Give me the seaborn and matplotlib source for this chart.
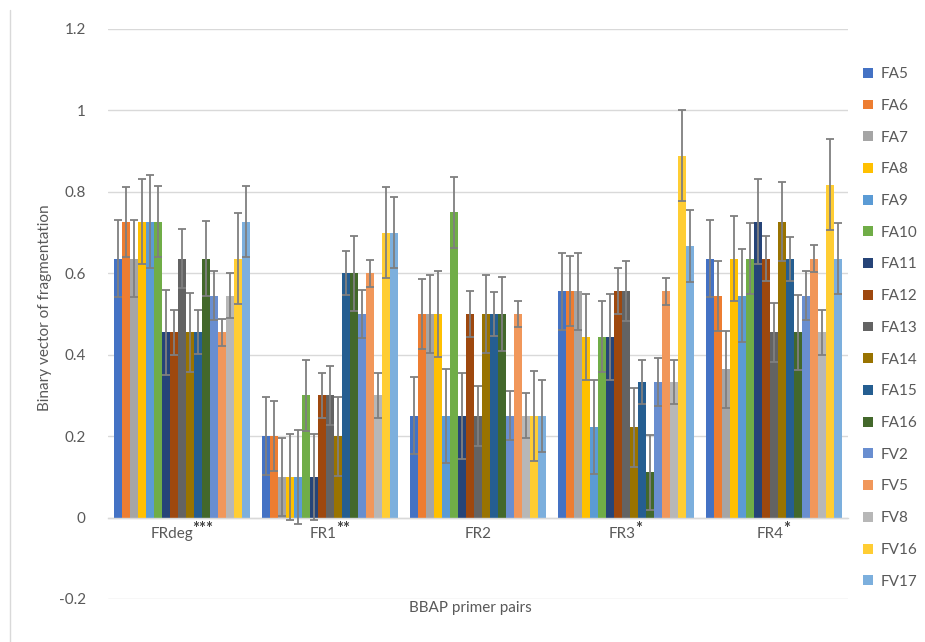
import matplotlib
matplotlib.use("Agg")
import matplotlib.pyplot as plt
import matplotlib.patches as mpatches
from matplotlib.lines import Line2D
from matplotlib.transforms import ScaledTranslation
import seaborn as sns
import pandas as pd

categories = ["FRdeg", "FR1", "FR2", "FR3", "FR4"]
cat_stars = ["***", "**", "", "*", "*"]
series = ["FA5", "FA6", "FA7", "FA8", "FA9", "FA10", "FA11", "FA12", "FA13",
          "FA14", "FA15", "FA16", "FV2", "FV5", "FV8", "FV16", "FV17"]

vals_FRdeg = [0.636, 0.727, 0.636, 0.727, 0.727, 0.727, 0.455, 0.455, 0.636,
              0.455, 0.455, 0.636, 0.545, 0.455, 0.545, 0.636, 0.727]
vals_FR1 = [0.2, 0.2, 0.1, 0.1, 0.1, 0.3, 0.1, 0.3, 0.3,
            0.2, 0.6, 0.6, 0.5, 0.6, 0.3, 0.7, 0.7]
vals_FR2 = [0.25, 0.5, 0.5, 0.5, 0.25, 0.75, 0.25, 0.5, 0.25,
            0.5, 0.5, 0.5, 0.25, 0.5, 0.25, 0.25, 0.25]
vals_FR3 = [0.556, 0.556, 0.556, 0.444, 0.222, 0.444, 0.444, 0.556, 0.556,
            0.222, 0.333, 0.111, 0.333, 0.556, 0.333, 0.889, 0.667]
vals_FR4 = [0.636, 0.545, 0.364, 0.636, 0.545, 0.636, 0.727, 0.636, 0.455,
            0.727, 0.636, 0.455, 0.545, 0.636, 0.455, 0.818, 0.636]
errors = [0.095, 0.086, 0.095, 0.105, 0.115, 0.087, 0.105, 0.056, 0.073,
          0.097, 0.054, 0.092, 0.060, 0.033, 0.055, 0.111, 0.088]

colors = ["#4472C4", "#ED7D31", "#A5A5A5", "#FFC000", "#5B9BD5", "#70AD47",
          "#264478", "#9E480E", "#636363", "#997300", "#255E91", "#43682B",
          "#698ED0", "#F1975A", "#B7B7B7", "#FFCD33", "#7CAFDD"]

all_vals = [vals_FRdeg, vals_FR1, vals_FR2, vals_FR3, vals_FR4]
rows = []
for c, vals in zip(categories, all_vals):
    for s, v in zip(series, vals):
        rows.append({"cat": c, "series": s, "value": v})
df = pd.DataFrame(rows)

sns.set_theme(style="white")
plt.rcParams["font.family"] = ["Lato", "DejaVu Sans"]
plt.rcParams["axes.unicode_minus"] = False
txt = "#595959"
grid = "#D9D9D9"
fs = 11

fig = plt.figure(figsize=(9.25, 6.42), dpi=100)
ax = fig.add_axes([108 / 925, 43 / 642, 740 / 925, 570 / 642])

palette = dict(zip(series, colors))
sns.barplot(data=df, x="cat", y="value", hue="series", order=categories,
            hue_order=series, palette=palette, width=0.92, linewidth=0,
            errorbar=None, legend=False, ax=ax, saturation=1)

for cont, err in zip(ax.containers, errors):
    xs = [b.get_x() + b.get_width() / 2 for b in cont]
    ys = [b.get_height() for b in cont]
    ax.errorbar(xs, ys, yerr=err, fmt="none", ecolor="#7F7F7F",
                elinewidth=1.3, capsize=2.6, capthick=1.3, zorder=5)

ax.set_ylim(-0.2, 1.2)
ax.set_xlim(-0.5, 4.5)
yt = [-0.2, 0, 0.2, 0.4, 0.6, 0.8, 1.0, 1.2]
ax.set_yticks(yt)
ax.set_yticklabels([f"{v:g}" for v in yt], color=txt, fontsize=fs)
ax.yaxis.grid(True, color=grid, linewidth=1)
ax.set_axisbelow(True)
for sp in ["top", "right", "left"]:
    ax.spines[sp].set_visible(False)
ax.spines["bottom"].set_position(("data", 0))
ax.spines["bottom"].set_color(grid)
ax.spines["bottom"].set_linewidth(1)
ax.set_xticks(range(len(categories)))
ax.set_xticklabels(categories, color=txt, fontsize=fs)
ax.tick_params(axis="both", length=0)
ax.tick_params(axis="y", pad=16)
ax.tick_params(axis="x", pad=7)
ax.set_xlabel("")
ax.set_ylabel("")

# superscript stars after category labels (whole label centred)
fig.canvas.draw()
renderer = fig.canvas.get_renderer()
for lab, stars in zip(ax.get_xticklabels(), cat_stars):
    if not stars:
        continue
    st = fig.text(0, 0, stars, ha="left", va="center", color="#404040",
                  fontsize=12, fontweight="bold")
    w = st.get_window_extent(renderer).width
    shift = -w / 2
    lab.set_transform(lab.get_transform() +
                      ScaledTranslation(shift / fig.dpi, 0, fig.dpi_scale_trans))
    bb = lab.get_window_extent(renderer)
    st.set_position(((bb.x1 - 0.5) / fig.bbox.width,
                     (bb.y1 - 2) / fig.bbox.height))

fig.text(470 / 925, 1 - 608 / 642, "BBAP primer pairs", ha="center",
         va="center", color=txt, fontsize=fs)
fig.text(45 / 925, 1 - 308 / 642, "Binary vector of fragmentation",
         ha="center", va="center", rotation=90, color=txt, fontsize=fs)

handles = [mpatches.Patch(facecolor=c, edgecolor="none", label=s)
           for s, c in zip(series, colors)]
leg = fig.legend(handles=handles, loc="upper left",
                 bbox_to_anchor=(857 / 925, 1 - 61 / 642), frameon=False,
                 fontsize=fs, labelspacing=1.16, handlelength=0.62,
                 handleheight=0.62, handletextpad=0.5, borderaxespad=0)
for t in leg.get_texts():
    t.set_color(txt)

fig.add_artist(Line2D([9.5 / 925, 9.5 / 925], [0, 1 - 10 / 642],
                      color=grid, linewidth=1))

fig.savefig("out.png", dpi=100)
